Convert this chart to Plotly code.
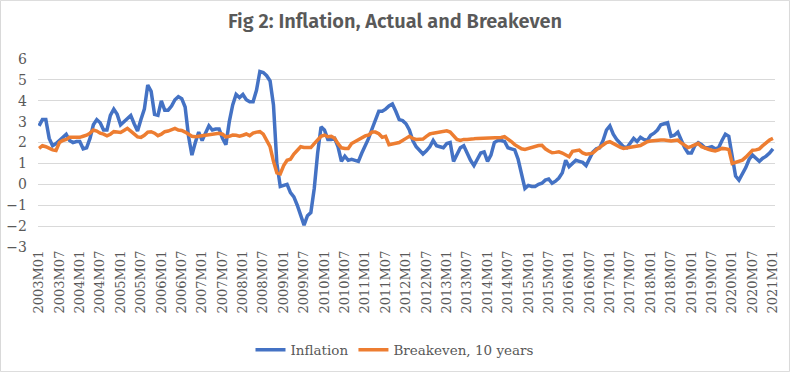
import plotly.graph_objects as go

# Monthly categories 2003M01 .. 2021M01
years = list(range(2003, 2022))
months = [f"{y}M{m:02d}" for y in years for m in range(1, 13)][:217]

inflation = [
    2.8, 3.1, 3.1, 2.2, 1.85, 1.95, 2.1, 2.25, 2.4, 2.1, 2.0, 2.05,
    2.05, 1.7, 1.75, 2.2, 2.85, 3.1, 2.95, 2.6, 2.6, 3.3, 3.6, 3.35,
    2.85, 3.0, 3.15, 3.3, 2.9, 2.55, 3.1, 3.6, 4.75, 4.45, 3.35, 3.3,
    4.0, 3.55, 3.55, 3.75, 4.05, 4.2, 4.1, 3.7, 2.3, 1.4, 2.0, 2.5,
    2.1, 2.45, 2.8, 2.6, 2.65, 2.65, 2.2, 1.9, 3.0, 3.8, 4.3, 4.15,
    4.3, 4.05, 3.95, 3.95, 4.5, 5.4, 5.35, 5.2, 4.95, 3.8, 1.0, -0.1,
    -0.05, 0.0, -0.4, -0.6, -1.0, -1.5, -1.95, -1.5, -1.35, -0.2, 1.5, 2.75,
    2.6, 2.15, 2.15, 2.2, 1.8, 1.1, 1.35, 1.15, 1.2, 1.15, 1.1, 1.5,
    1.85, 2.2, 2.65, 3.1, 3.5, 3.5, 3.6, 3.75, 3.85, 3.5, 3.1, 3.05,
    2.9, 2.6, 2.1, 1.8, 1.65, 1.45, 1.6, 1.8, 2.1, 1.85, 1.8, 1.75,
    1.95, 2.0, 1.1, 1.45, 1.75, 1.85, 1.5, 1.15, 0.9, 1.2, 1.5, 1.55,
    1.1, 1.4, 2.0, 2.1, 2.1, 2.05, 1.75, 1.7, 1.65, 1.2, 0.5, -0.2,
    -0.05, -0.1, -0.1, 0.0, 0.05, 0.2, 0.25, 0.05, 0.15, 0.3, 0.55, 1.15,
    0.85, 1.0, 1.15, 1.1, 1.05, 0.9, 1.25, 1.55, 1.7, 1.75, 2.1, 2.6,
    2.8, 2.4, 2.15, 2.0, 1.8, 1.75, 1.95, 2.2, 2.05, 2.25, 2.15, 2.1,
    2.35, 2.45, 2.6, 2.85, 2.9, 2.95, 2.3, 2.35, 2.5, 2.1, 1.75, 1.5,
    1.5, 1.85, 2.0, 1.9, 1.75, 1.75, 1.8, 1.7, 1.75, 2.1, 2.4, 2.3,
    1.4, 0.4, 0.2, 0.5, 0.8, 1.2, 1.4, 1.25, 1.1, 1.25, 1.35, 1.5,
    1.7,
]

breakeven = [
    1.72, 1.85, 1.8, 1.72, 1.65, 1.62, 2.0, 2.1, 2.15, 2.25, 2.25, 2.25,
    2.25, 2.3, 2.35, 2.45, 2.6, 2.55, 2.45, 2.4, 2.32, 2.4, 2.52, 2.5,
    2.48, 2.58, 2.68, 2.55, 2.4, 2.27, 2.25, 2.35, 2.5, 2.52, 2.45, 2.33,
    2.4, 2.52, 2.55, 2.62, 2.68, 2.6, 2.58, 2.5, 2.4, 2.3, 2.28, 2.3,
    2.33, 2.35, 2.38, 2.4, 2.44, 2.44, 2.4, 2.27, 2.3, 2.36, 2.35, 2.31,
    2.35, 2.41, 2.33, 2.45, 2.5, 2.52, 2.4, 2.1, 1.8, 1.1, 0.55, 0.5,
    0.9, 1.15, 1.2, 1.45, 1.65, 1.8, 1.76, 1.78, 1.76, 1.95, 2.15, 2.3,
    2.36, 2.28, 2.3, 2.2, 1.95, 1.75, 1.72, 1.72, 1.95, 2.05, 2.12, 2.25,
    2.32, 2.36, 2.5, 2.5, 2.42, 2.25, 2.3, 1.9, 1.95, 1.97, 2.0, 2.08,
    2.2, 2.3, 2.2, 2.15, 2.15, 2.17, 2.3, 2.41, 2.45, 2.47, 2.5, 2.52,
    2.56, 2.5, 2.35, 2.15, 2.1, 2.15, 2.15, 2.15, 2.18, 2.2, 2.2, 2.22,
    2.21, 2.2, 2.2, 2.2, 2.24, 2.28, 2.18, 2.05, 1.9, 1.78, 1.7, 1.67,
    1.72, 1.8, 1.83, 1.86, 1.87, 1.7, 1.6, 1.51, 1.53, 1.56, 1.5, 1.4,
    1.32, 1.58, 1.62, 1.64, 1.5, 1.44, 1.46, 1.5, 1.65, 1.78, 1.9, 2.0,
    2.04, 1.95, 1.83, 1.78, 1.72, 1.75, 1.8, 1.82, 1.84, 1.86, 1.95, 2.04,
    2.07, 2.1, 2.12, 2.12, 2.12, 2.1, 2.07, 2.1, 2.12, 1.98, 1.85, 1.76,
    1.82, 1.9, 1.96, 1.8, 1.72, 1.68, 1.63, 1.6, 1.65, 1.72, 1.7, 1.67,
    1.0, 1.05, 1.1, 1.16, 1.3, 1.45, 1.63, 1.65, 1.7, 1.85, 2.0, 2.12,
    2.2,
]

tick_labels = months[::6]
y_ticks = [-3, -2, -1, 0, 1, 2, 3, 4, 5, 6]

title_text = "Fig 2: Inflation, Actual and Breakeven"
series_names = ["Inflation", "Breakeven, 10 years"]
colors = ["#4472C4", "#ED7D31"]

fig = go.Figure()
for name, vals, col in zip(series_names, [inflation, breakeven], colors):
    fig.add_trace(go.Scatter(
        x=months, y=vals, mode="lines", name=name,
        line=dict(color=col, width=3.5),
    ))

W, H = 790, 372
ml, mr, mt, mb = 38, 15, 59, 125
pw, ph = W - ml - mr, H - mt - mb

fig.update_layout(
    width=W, height=H,
    margin=dict(l=ml, r=mr, t=mt, b=mb, pad=0, autoexpand=False),
    paper_bgcolor="white", plot_bgcolor="white",
    title=dict(
        text=title_text, x=0.5, xref="container", xanchor="center",
        y=1 - 21 / H, yref="container", yanchor="middle",
        font=dict(family="Fira Sans, Roboto, sans-serif", size=20, color="#595959", weight=600),
    ),
    showlegend=True,
    legend=dict(
        orientation="h", x=0.5, xref="container", xanchor="center",
        y=1 - 350 / H, yref="container", yanchor="middle",
        font=dict(family="DejaVu Serif", size=13.5, color="#595959"),
        itemwidth=30,
    ),
    xaxis=dict(
        type="category", categoryorder="array", categoryarray=months,
        tickmode="array", tickvals=tick_labels, ticktext=tick_labels,
        tickangle=-90, range=[-0.3, 216.6], automargin=False,
        tickfont=dict(family="DejaVu Serif", size=13, color="#595959"),
        showgrid=False, showline=False, zeroline=False, ticks="",
    ),
    yaxis=dict(
        range=[-3, 6], tickvals=y_ticks, automargin=False,
        tickfont=dict(family="DejaVu Serif", size=14, color="#595959"),
        showgrid=True, gridcolor="#D9D9D9", gridwidth=1,
        zeroline=False, showline=False, ticks="", ticklabelstandoff=10,
    ),
    shapes=[dict(
        type="rect", xref="paper", yref="paper",
        x0=-ml / pw + 0.0007, x1=1 + mr / pw - 0.0007,
        y0=-mb / ph + 0.002, y1=1 + mt / ph - 0.002,
        line=dict(color="#D9D9D9", width=1), fillcolor="rgba(0,0,0,0)", layer="below",
    )],
)

fig.write_html(
    "out.html",
    config={"displayModeBar": False},
    post_script="document.body.style.margin='0';document.body.style.overflow='hidden';",
)
